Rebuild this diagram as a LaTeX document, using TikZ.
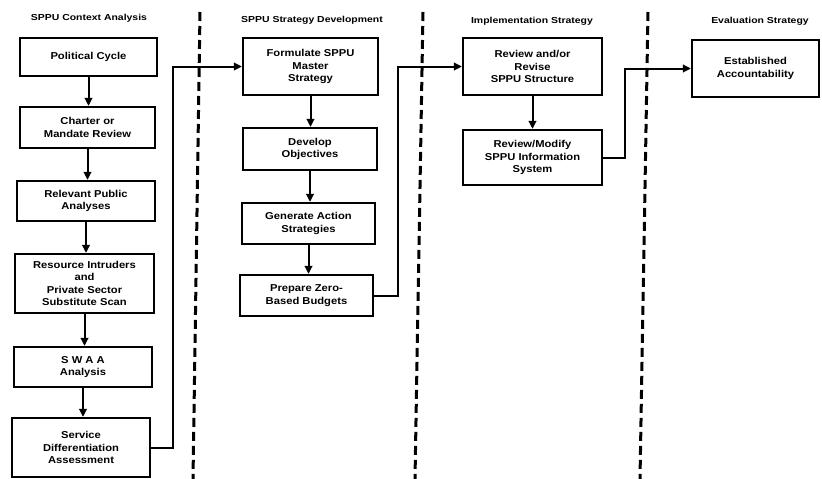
\documentclass[tikz,border=0pt]{standalone}
\usepackage{fontspec}
\setmainfont{Liberation Sans}
\newfontfamily\boxfont[FakeStretch=1.12]{Liberation Sans}
\newfontfamily\titlefont[FakeStretch=1.2]{Liberation Sans}
\usetikzlibrary{arrows.meta}
\tikzset{
  box/.style={draw=black, line width=2.2pt, align=center, font=\boxfont\bfseries\fontsize{10}{12.5}\selectfont, inner sep=2pt},
  title/.style={font=\titlefont\bfseries\fontsize{8.7}{10}\selectfont, inner sep=0pt},
  flow/.style={line width=2pt, -{Triangle[length=8pt,width=7.5pt]}},
  divider/.style={line width=3pt, dash pattern=on 9pt off 5pt}
}
\begin{document}
\begin{tikzpicture}[x=1pt,y=-1pt]
\useasboundingbox (0,0) rectangle (822,479);
% column titles
\node[title] (t1) at (89,18) {SPPU Context Analysis};
\node[title] (t2) at (312,20) {SPPU Strategy Development};
\node[title] (t3) at (532,21) {Implementation Strategy};
\node[title] (t4) at (760,21) {Evaluation Strategy};
% dividers
\coordinate (d1a) at (200,12); \coordinate (d1b) at (193,479);
\coordinate (d2a) at (423,12); \coordinate (d2b) at (415,479);
\coordinate (d3a) at (648,12); \coordinate (d3b) at (640,479);
\draw[divider] (d1a) -- (d1b);
\draw[divider] (d2a) -- (d2b);
\draw[divider] (d3a) -- (d3b);
% left column
\node[box, minimum width=137, minimum height=38] (pc) at (88.5,57) {Political Cycle};
\node[box, minimum width=135, minimum height=41] (ch) at (87.5,127.5) {Charter or\\Mandate Review};
\node[box, minimum width=138, minimum height=40] (rp) at (86,201) {Relevant Public\\Analyses};
\node[box, minimum width=139, minimum height=59] (ri) at (84.5,283.5) {Resource Intruders\\and\\Private Sector\\Substitute Scan};
\node[box, minimum width=138, minimum height=40] (sw) at (83,367) {S W A A\\Analysis};
\node[box, minimum width=138, minimum height=59] (sd) at (81,447.5) {Service\\Differentiation\\Assessment};
% middle column
\node[box, minimum width=135, minimum height=57] (fm) at (310.5,66.5) {Formulate SPPU\\Master\\Strategy};
\node[box, minimum width=134, minimum height=42] (do) at (310,149) {Develop\\Objectives};
\node[box, minimum width=133, minimum height=41] (ga) at (308.5,223.5) {Generate Action\\Strategies};
\node[box, minimum width=133, minimum height=41] (pz) at (306.5,295.5) {Prepare Zero-\\Based Budgets};
% right columns
\node[box, minimum width=139, minimum height=57] (rr) at (532.5,66.5) {Review and/or\\Revise\\SPPU Structure};
\node[box, minimum width=139, minimum height=55] (rm) at (532.5,157.5) {Review/Modify\\SPPU Information\\System};
\node[box, minimum width=127, minimum height=57] (ea) at (755.5,68.5) {Established\\Accountability};
% vertical arrows
\draw[flow] (pc.south) -- (pc.south |- ch.north);
\draw[flow] (ch.south) -- (ch.south |- rp.north);
\draw[flow] (rp.south) -- (rp.south |- ri.north);
\draw[flow] (ri.south) -- (ri.south |- sw.north);
\draw[flow] (sw.south) -- (sw.south |- sd.north);
\draw[flow] (fm.south) -- (fm.south |- do.north);
\draw[flow] (do.south) -- (do.south |- ga.north);
\draw[flow] (ga.south) -- (ga.south |- pz.north);
\draw[flow] (rr.south) -- (rr.south |- rm.north);
% cross-column connectors
\coordinate (c1) at (173,300);
\coordinate (c2) at (398,200);
\coordinate (c3) at (625,120);
\draw[flow] (sd.east) -| (c1) |- (fm.west);
\draw[flow] (pz.east) -| (c2) |- (rr.west);
\draw[flow] (rm.east) -| (c3) |- (ea.west);
\end{tikzpicture}
\end{document}
